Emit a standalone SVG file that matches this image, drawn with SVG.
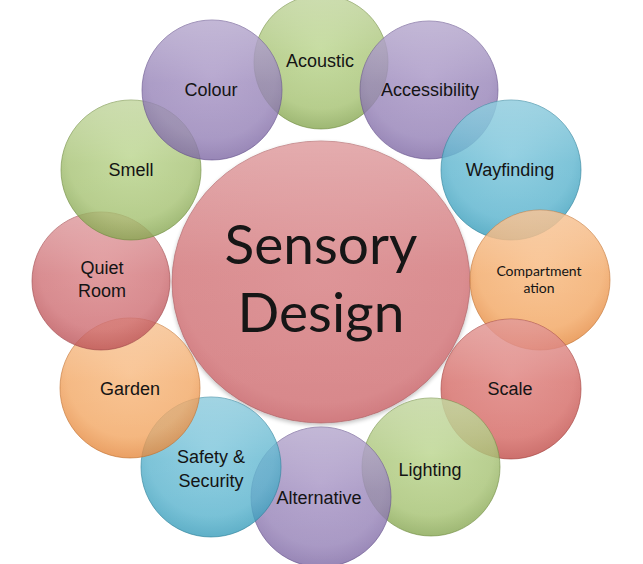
<svg xmlns="http://www.w3.org/2000/svg" width="643" height="564" viewBox="0 0 643 564">
<defs>
<radialGradient id="gGreen" cx="50%" cy="40%" r="60%"><stop offset="0" stop-color="#b4d183"/><stop offset="0.75" stop-color="#a3c06e"/><stop offset="1" stop-color="#86a651"/></radialGradient>
<radialGradient id="gPurple" cx="50%" cy="40%" r="60%"><stop offset="0" stop-color="#a08cc0"/><stop offset="0.75" stop-color="#927eb5"/><stop offset="1" stop-color="#7e68a4"/></radialGradient>
<radialGradient id="gBlue" cx="50%" cy="40%" r="60%"><stop offset="0" stop-color="#6fc0d8"/><stop offset="0.75" stop-color="#55b1cc"/><stop offset="1" stop-color="#379cba"/></radialGradient>
<radialGradient id="gOrange" cx="50%" cy="40%" r="60%"><stop offset="0" stop-color="#f7b374"/><stop offset="0.75" stop-color="#f2a45e"/><stop offset="1" stop-color="#e5883d"/></radialGradient>
<radialGradient id="gPink" cx="50%" cy="40%" r="60%"><stop offset="0" stop-color="#d87c80"/><stop offset="0.75" stop-color="#cd6a6f"/><stop offset="1" stop-color="#bb5156"/></radialGradient>
<radialGradient id="gRed" cx="50%" cy="40%" r="60%"><stop offset="0" stop-color="#dc7672"/><stop offset="0.75" stop-color="#d3645f"/><stop offset="1" stop-color="#c04c48"/></radialGradient>
<radialGradient id="gCenter" cx="50%" cy="45%" r="60%"><stop offset="0" stop-color="#dc9093"/><stop offset="0.8" stop-color="#d8888b"/><stop offset="1" stop-color="#cb7378"/></radialGradient>
<linearGradient id="gloss" x1="0" y1="0" x2="0" y2="1"><stop offset="0" stop-color="#fff" stop-opacity="0.3"/><stop offset="0.45" stop-color="#fff" stop-opacity="0.05"/><stop offset="1" stop-color="#fff" stop-opacity="0"/></linearGradient>
<filter id="sh" x="-20%" y="-20%" width="140%" height="140%"><feGaussianBlur in="SourceAlpha" stdDeviation="2"/><feOffset dx="0" dy="2"/><feComponentTransfer><feFuncA type="linear" slope="0.25"/></feComponentTransfer><feMerge><feMergeNode/><feMergeNode in="SourceGraphic"/></feMerge></filter>
</defs>
<style>
.c{fill-opacity:0.8;stroke-width:1;stroke-opacity:0.6}
.green{fill:url(#gGreen);stroke:#6e8a3e}
.purple{fill:url(#gPurple);stroke:#64508a}
.blue{fill:url(#gBlue);stroke:#2c7f98}
.orange{fill:url(#gOrange);stroke:#c0702f}
.pink{fill:url(#gPink);stroke:#9c4448}
.red{fill:url(#gRed);stroke:#a03c38}
.gl{fill:url(#gloss);stroke:none}
.t{font-family:"Liberation Sans",Arial,sans-serif;font-size:18px;fill:#141414;text-anchor:middle}
.tc{font-family:Lato,"Open Sans",sans-serif;fill:#141414;text-anchor:middle}
</style>
<rect width="643" height="564" fill="#fff"/>
<g id="center" filter="url(#sh)">
<ellipse cx="321" cy="282" rx="149" ry="141" fill="url(#gCenter)" stroke="#a85a5e" stroke-opacity="0.6"/>
<ellipse cx="321" cy="282" rx="149" ry="141" class="gl"/>
<text class="tc" x="321" y="264" font-size="55">Sensory</text>
<text class="tc" x="321" y="332" font-size="55">Design</text>
</g>
<g id="acoustic"><circle class="c green" cx="321" cy="62" r="67"/><circle class="gl" cx="321" cy="62" r="67"/><text class="t" x="320" y="67">Acoustic</text></g>
<g id="accessibility"><circle class="c purple" cx="429" cy="90" r="69"/><circle class="gl" cx="429" cy="90" r="69"/><text class="t" x="430" y="96" font-size="16">Accessibility</text></g>
<g id="wayfinding"><circle class="c blue" cx="511" cy="170" r="70"/><circle class="gl" cx="511" cy="170" r="70"/><text class="t" x="510" y="176">Wayfinding</text></g>
<g id="compartmentation"><circle class="c orange" cx="540" cy="280" r="70"/><circle class="gl" cx="540" cy="280" r="70"/><text class="tc" x="539" y="276" font-size="14">Compartment</text><text class="tc" x="539" y="293" font-size="14">ation</text></g>
<g id="scale"><circle class="c red" cx="511" cy="389" r="70"/><circle class="gl" cx="511" cy="389" r="70"/><text class="t" x="510" y="395">Scale</text></g>
<g id="lighting"><circle class="c green" cx="431" cy="467" r="69"/><circle class="gl" cx="431" cy="467" r="69"/><text class="t" x="430" y="476">Lighting</text></g>
<g id="alternative"><circle class="c purple" cx="321" cy="497" r="70"/><circle class="gl" cx="321" cy="497" r="70"/><text class="t" x="319" y="504">Alternative</text></g>
<g id="safety"><circle class="c blue" cx="211" cy="467" r="70"/><circle class="gl" cx="211" cy="467" r="70"/><text class="t" x="211" y="463">Safety &amp;</text><text class="t" x="211" y="487">Security</text></g>
<g id="garden"><circle class="c orange" cx="130" cy="388" r="70"/><circle class="gl" cx="130" cy="388" r="70"/><text class="t" x="130" y="395">Garden</text></g>
<g id="quietroom"><circle class="c pink" cx="101" cy="281" r="69"/><circle class="gl" cx="101" cy="281" r="69"/><text class="t" x="102" y="274">Quiet</text><text class="t" x="102" y="297">Room</text></g>
<g id="smell"><circle class="c green" cx="131" cy="170" r="70"/><circle class="gl" cx="131" cy="170" r="70"/><text class="t" x="131" y="176">Smell</text></g>
<g id="colour"><circle class="c purple" cx="212" cy="90" r="70"/><circle class="gl" cx="212" cy="90" r="70"/><text class="t" x="211" y="96">Colour</text></g>
<g id="connectors"/>
</svg>
